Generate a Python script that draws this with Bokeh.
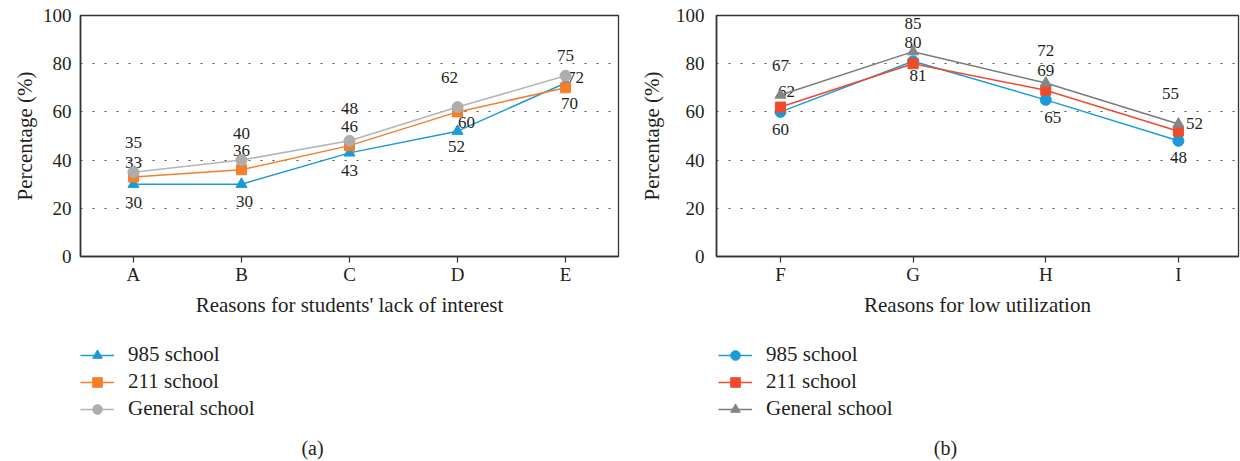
from bokeh.plotting import figure
from bokeh.layouts import row, column
from bokeh.models import FixedTicker, Legend, LegendItem, ColumnDataSource, Range1d, Label
from bokeh.core.properties import value
from bokeh.embed import file_html
from bokeh.resources import INLINE

# ---------------- data ----------------
cats_a = ["A", "B", "C", "D", "E"]
a_985 = [30, 30, 43, 52, 72]
a_211 = [33, 36, 46, 60, 70]
a_gen = [35, 40, 48, 62, 75]

cats_b = ["F", "G", "H", "I"]
b_985 = [60, 81, 65, 48]
b_211 = [62, 80, 69, 52]
b_gen = [67, 85, 72, 55]

y_ticks = [0, 20, 40, 60, 80, 100]
series_names = ["985 school", "211 school", "General school"]

# ---------------- style ----------------
FONT = "'Liberation Serif', serif"
TXT = "#231f20"

# label offsets in pixels (dx, dy) -- styling only
off_a = {
    "985": [(0, 18), (3, 17), (0, 18), (-1, 15), (10, -5)],
    "211": [(0, -14), (0, -19), (0, -19), (9, 11), (4, 16)],
    "gen": [(0, -30), (0, -27), (0, -32), (-8, -30), (0, -20)],
}
off_b = {
    "985": [(0, 18), (5, 14), (7, 18), (0, 17)],
    "211": [(6, -16), (0, -21), (0, -20), (16, -8)],
    "gen": [(0, -30), (0, -28), (0, -32), (-8, -30)],
}

H_TOP = 320
H_BOT = 141


def make_sources(cats, series, offsets, styles):
    xs = list(range(len(cats)))
    out = []
    for (name, vals), st in zip(series, styles):
        key = st[0]
        out.append(ColumnDataSource(dict(x=xs, y=vals, t=[str(v) for v in vals],
                                         dx=[o[0] for o in offsets[key]],
                                         dy=[o[1] for o in offsets[key]])))
    return out


def make_fig(cats, sources, styles, xtitle, width, bl, br, xr, ylab_standoff, ytitle_standoff):
    p = figure(width=width, height=H_TOP, output_backend="svg", toolbar_location=None,
               x_range=Range1d(*xr), y_range=Range1d(0, 100),
               min_border_left=bl, min_border_right=br, min_border_top=15,
               min_border_bottom=H_TOP - 15 - 241)
    p.background_fill_color = None
    p.border_fill_color = None
    p.outline_line_color = "#333333"
    p.outline_line_width = 1.3
    p.xgrid.visible = False
    p.ygrid.ticker = FixedTicker(ticks=[20, 40, 60, 80])
    p.ygrid.grid_line_color = "#555555"
    p.ygrid.grid_line_dash = "2 10"
    p.ygrid.grid_line_width = 1

    xs = list(range(len(cats)))
    p.xaxis.ticker = FixedTicker(ticks=xs)
    p.xaxis.major_label_overrides = {i: c for i, c in enumerate(cats)}
    p.yaxis.ticker = FixedTicker(ticks=y_ticks)

    for ax in (p.xaxis[0], p.yaxis[0]):
        ax.axis_line_color = "#333333"
        ax.axis_line_width = 1.6
        ax.major_label_text_font = FONT
        ax.major_label_text_font_size = "19px"
        ax.major_label_text_color = TXT
        ax.axis_label_text_font = FONT
        ax.axis_label_text_font_size = "21px"
        ax.axis_label_text_font_style = "normal"
        ax.axis_label_text_color = TXT
        ax.minor_tick_line_color = None
    p.xaxis.major_tick_out = 6
    p.xaxis.major_tick_in = 0
    p.xaxis.major_tick_line_color = "#333333"
    p.xaxis.major_tick_line_width = 1.2
    p.xaxis.major_label_standoff = 1
    p.xaxis.axis_label = xtitle
    p.xaxis.axis_label_standoff = 5
    p.yaxis.major_tick_out = 0
    p.yaxis.major_tick_in = 0
    p.yaxis.major_tick_line_color = None
    p.yaxis.major_label_standoff = ylab_standoff
    p.yaxis.axis_label = "Percentage (%)"
    p.yaxis.axis_label_standoff = ytitle_standoff

    for src, (key, marker, color, lcolor, msize) in zip(sources, styles):
        p.line("x", "y", source=src, line_color=lcolor, line_width=1.5)
        p.scatter("x", "y", source=src, marker=marker, size=msize,
                  fill_color=color, line_color=color)
        p.text("x", "y", text="t", source=src, x_offset="dx", y_offset="dy",
               text_font=value(FONT), text_font_size="17px", text_color=TXT,
               text_align="center", text_baseline="middle")
    return p


def make_legend_fig(sources, styles, caption, width, bl, cap_x):
    q = figure(width=width, height=H_BOT, output_backend="svg", toolbar_location=None,
               x_range=Range1d(0, 1), y_range=Range1d(0, 1),
               x_axis_type=None, y_axis_type=None,
               min_border_left=bl, min_border_right=0, min_border_top=0, min_border_bottom=0)
    q.background_fill_color = None
    q.border_fill_color = None
    q.outline_line_color = None
    q.grid.visible = False
    items = []
    for name, src, (key, marker, color, lcolor, msize) in zip(series_names, sources, styles):
        l = q.line("x", "y", source=src, line_color=lcolor, line_width=1.3, visible=False)
        m = q.scatter("x", "y", source=src, marker=marker, size=msize - 2,
                      fill_color=color, line_color=color, visible=False)
        items.append(LegendItem(label=name, renderers=[l, m], index=0))
    leg = Legend(items=items, location="top_left", orientation="vertical")
    leg.background_fill_alpha = 0
    leg.border_line_color = None
    leg.inactive_fill_alpha = 0
    leg.padding = 0
    leg.margin = 22
    leg.spacing = 2
    leg.glyph_width = 34
    leg.glyph_height = 24
    leg.label_height = 24
    leg.label_standoff = 14
    leg.label_text_font = FONT
    leg.label_text_font_size = "21px"
    leg.label_text_color = TXT
    q.add_layout(leg, "center")
    q.add_layout(Label(x=cap_x, y=14, x_units="screen", y_units="screen", text=caption,
                       text_font=FONT, text_font_size="20px", text_color=TXT,
                       text_align="center", text_baseline="middle"))
    return q


styles_a = [("985", "triangle", "#1a9bd7", "#1a9bd7", 11),
            ("211", "square", "#f47f2b", "#f47f2b", 10),
            ("gen", "circle", "#adadad", "#b5b5b5", 11)]
styles_b = [("985", "circle", "#1a9bd7", "#1a9bd7", 11),
            ("211", "square", "#ef4a2b", "#ef4a2b", 10),
            ("gen", "triangle", "#858585", "#7a7a7a", 11)]

src_a = make_sources(cats_a, list(zip(series_names, [a_985, a_211, a_gen])), off_a, styles_a)
src_b = make_sources(cats_b, list(zip(series_names, [b_985, b_211, b_gen])), off_b, styles_b)

pa = make_fig(cats_a, src_a, styles_a, "Reasons for students' lack of interest", 620, 80, 2,
              (-0.49, 4.49), 9, 3)
pb = make_fig(cats_b, src_b, styles_b, "Reasons for low utilization", 620, 96, 2,
              (-0.482, 3.453), 12, 9)
la = make_legend_fig(src_a, styles_a, "(a)", 620, 58, 254)
lb = make_legend_fig(src_b, styles_b, "(b)", 620, 76, 249)

layout = column(row(pa, pb), row(la, lb))
open("out.html", "w").write(file_html(layout, INLINE))
